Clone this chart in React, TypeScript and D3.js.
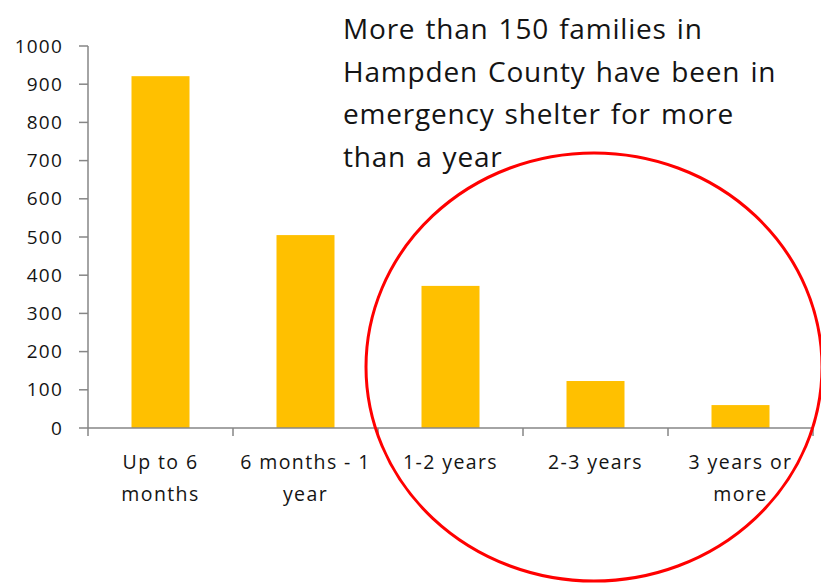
import React from "react";
import * as d3 from "d3";

const categories: string[][] = [
  ["Up to 6", "months"],
  ["6 months - 1", "year"],
  ["1-2 years"],
  ["2-3 years"],
  ["3 years or", "more"],
];
const values = [921, 505, 372, 123, 60];
const yTicks = [0, 100, 200, 300, 400, 500, 600, 700, 800, 900, 1000];
const noteLines = [
  "More than 150 families in",
  "Hampden County have been in",
  "emergency shelter for more",
  "than a year",
];

const W = 821;
const H = 584;
const left = 88;
const right = 813;
const top = 46;
const bottom = 428;
const font = "'Open Sans', Lato, sans-serif";
const textColor = "#141414";
const axisColor = "#868686";

export default function App() {
  const keys = categories.map((c) => c.join(" "));
  const x = d3.scaleBand<string>().domain(keys).range([left, right]).paddingInner(0.6).paddingOuter(0.3);
  const xb = d3.scaleBand<string>().domain(keys).range([left, right]);
  const y = d3.scaleLinear().domain([0, 1000]).range([bottom, top]);

  return (
    <svg width={W} height={H} style={{ position: "absolute", left: 0, top: 0, background: "#fff" }}>
      {values.map((v, i) => (
        <rect key={i} x={x(keys[i])} y={y(v)} width={x.bandwidth()} height={y(0) - y(v)} fill="#FFC000" />
      ))}
      {/* y axis */}
      <line x1={left} x2={left} y1={y(1000)} y2={y(0)} stroke={axisColor} strokeWidth={1.5} />
      {yTicks.map((t) => (
        <g key={t}>
          <line x1={left - 9} x2={left} y1={y(t)} y2={y(t)} stroke={axisColor} strokeWidth={1.5} />
          <text x={63} y={y(t)} dy="0.35em" textAnchor="end" fontFamily={font} fontSize={19} letterSpacing={1.2} fill={textColor}>
            {t}
          </text>
        </g>
      ))}
      {/* x axis */}
      <line x1={left} x2={right} y1={bottom} y2={bottom} stroke={axisColor} strokeWidth={1.5} />
      {keys.map((k, i) => (
        <line key={"t" + i} x1={xb(k)!} x2={xb(k)!} y1={bottom} y2={bottom + 8} stroke={axisColor} strokeWidth={1.5} />
      ))}
      <line x1={right} x2={right} y1={bottom} y2={bottom + 8} stroke={axisColor} strokeWidth={1.5} />
      {categories.map((c, i) => (
        <text key={"c" + i} textAnchor="middle" fontFamily={font} fontSize={19.5} letterSpacing={1.4} fill={textColor}>
          {c.map((line, j) => (
            <tspan key={j} x={xb(keys[i])! + xb.bandwidth() / 2} y={469 + j * 32}>
              {line}
            </tspan>
          ))}
        </text>
      ))}
      {/* annotation */}
      {noteLines.map((l, i) => (
        <text key={"n" + i} x={343} y={39 + i * 42.5} fontFamily={font} fontSize={28} letterSpacing={0.8} wordSpacing={2} fill={textColor}>
          {l}
        </text>
      ))}
      <ellipse cx={594} cy={367} rx={228} ry={214} fill="none" stroke="#ff0000" strokeWidth={3} />
    </svg>
  );
}
